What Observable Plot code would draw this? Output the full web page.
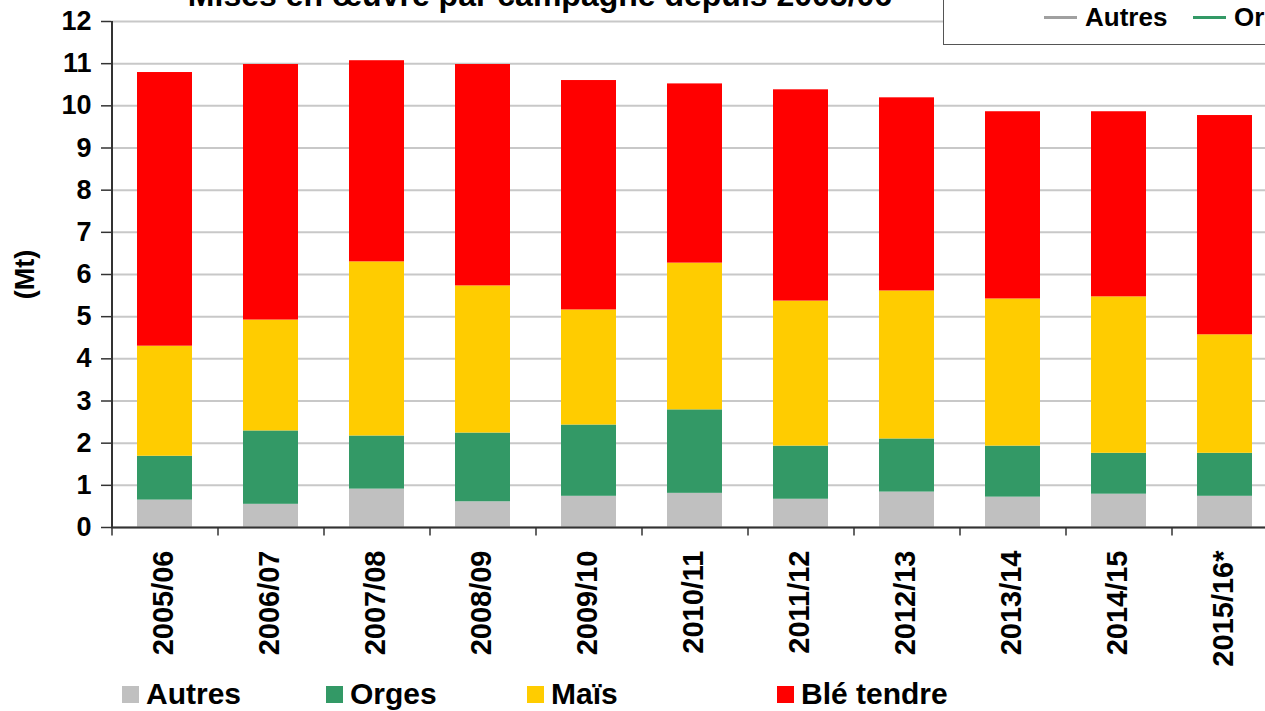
<!DOCTYPE html>
<html>
<head>
<meta charset="utf-8">
<script src="https://cdn.jsdelivr.net/npm/d3@7"></script>
<script src="https://cdn.jsdelivr.net/npm/@observablehq/plot@0.6"></script>
<style>
  html, body { margin: 0; padding: 0; background: #fff; overflow: hidden; width: 1265px; height: 711px; }
  body { position: relative; font-family: "Liberation Sans", Arial, sans-serif; }
  #title { position: absolute; left: 0; width: 1080px; text-align: center; top: -23px; font-size: 32px; font-weight: bold; line-height: 36px; color: #000; white-space: nowrap; z-index: 2; }
  #topbox { position: absolute; left: 943px; top: -10px; width: 400px; height: 53px; border: 1.5px solid #555; background: #fff; z-index: 3; }
  #topbox .it { position: absolute; top: 11px; font-size: 26px; font-weight: bold; line-height: 30px; display: flex; align-items: center; }
  #topbox .ln { display: inline-block; width: 33px; height: 3px; margin-right: 8px; }
  #chart { position: absolute; left: 0; top: 0; }
  #chart svg { max-width: none !important; }
  #legend { position: absolute; left: 0; top: 677px; display: flex; font-size: 30px; font-weight: bold; line-height: 34px; }
  #legend .it { display: flex; align-items: center; }
  #legend .sw { display: inline-block; width: 17px; height: 17px; margin-right: 7px; }
</style>
</head>
<body>
<div id="title">Mises en œuvre par campagne depuis 2005/06</div>
<div id="topbox"></div>
<div id="chart"></div>
<div id="legend"></div>
<script>
const campagnes = ["2005/06","2006/07","2007/08","2008/09","2009/10","2010/11","2011/12","2012/13","2013/14","2014/15","2015/16*"];
const series = ["Autres","Orges","Maïs","Blé tendre"];
const colors = ["#c0c0c0","#339966","#ffcc00","#ff0000"];
const autres = [0.65,0.55,0.91,0.61,0.74,0.81,0.67,0.84,0.72,0.79,0.74];
const orges  = [1.04,1.74,1.26,1.63,1.69,1.98,1.26,1.26,1.21,0.97,1.02];
const mais   = [2.61,2.63,4.13,3.49,2.73,3.48,3.44,3.51,3.49,3.71,2.81];
const ble    = [6.49,6.06,4.77,5.25,5.44,4.25,5.01,4.58,4.44,4.39,5.20];
const yTicks = [0,1,2,3,4,5,6,7,8,9,10,11,12];

const valuesBySerie = [autres, orges, mais, ble];
const data = [];
series.forEach((s, i) => campagnes.forEach((c, j) => data.push({campagne: c, serie: s, value: valuesBySerie[i][j]})));

const W = 1280, H = 672;
const chart = Plot.plot({
  width: W, height: H,
  marginLeft: 111, marginRight: 2, marginTop: 21, marginBottom: H - 527,
  style: {fontFamily: "'Liberation Sans', Arial, sans-serif", color: "#000", background: "transparent", maxWidth: "none"},
  x: {domain: campagnes, paddingInner: 0.48, paddingOuter: 0.24, axis: null},
  y: {domain: [0, 12], axis: null},
  color: {domain: series, range: colors},
  marks: [
    Plot.gridY(yTicks, {stroke: "#c8c8c8", strokeOpacity: 1, strokeWidth: 2}),
    Plot.barY(data, {x: "campagne", y: "value", fill: "serie"}),
    Plot.axisY(yTicks, {tickSize: 10, tickPadding: 10, fontSize: 27, fontWeight: "bold", stroke: "#333", strokeWidth: 1.5,
      label: "(Mt)", labelAnchor: "center", labelArrow: "none", labelOffset: 97}),
    Plot.ruleX([campagnes[0]], {x: d => d, y1: 0, y2: 12, dx: -53, stroke: "#333", strokeWidth: 2}),
    Plot.ruleY([0], {stroke: "#333", strokeWidth: 2}),
    Plot.ruleX(campagnes, {x: d => d, y1: 0, y2: -0.2, dx: -53, stroke: "#333", strokeWidth: 1.5}),
    Plot.axisX({tickRotate: -90, tickSize: 0, tickPadding: 23, fontSize: 29, fontWeight: "bold", label: null, dx: -1})
  ]
});
document.getElementById("chart").appendChild(chart);

// bottom legend
const legend = document.getElementById("legend");
const legendWidths = [204, 201, 250, 250];
legend.style.paddingLeft = "122px";
series.forEach((s, i) => {
  const it = document.createElement("div");
  it.className = "it";
  it.style.width = legendWidths[i] + "px";
  it.innerHTML = `<span class="sw" style="background:${colors[i]}"></span><span>${s}</span>`;
  legend.appendChild(it);
});

// top-right (cropped) line legend
const topbox = document.getElementById("topbox");
const topLefts = [100, 249];
[0, 1].forEach((k, n) => {
  const it = document.createElement("div");
  it.className = "it";
  it.style.left = topLefts[n] + "px";
  it.innerHTML = `<span class="ln" style="background:${k === 0 ? "#a0a0a0" : colors[1]}"></span><span>${series[k]}</span>`;
  topbox.appendChild(it);
});
</script>
</body>
</html>
